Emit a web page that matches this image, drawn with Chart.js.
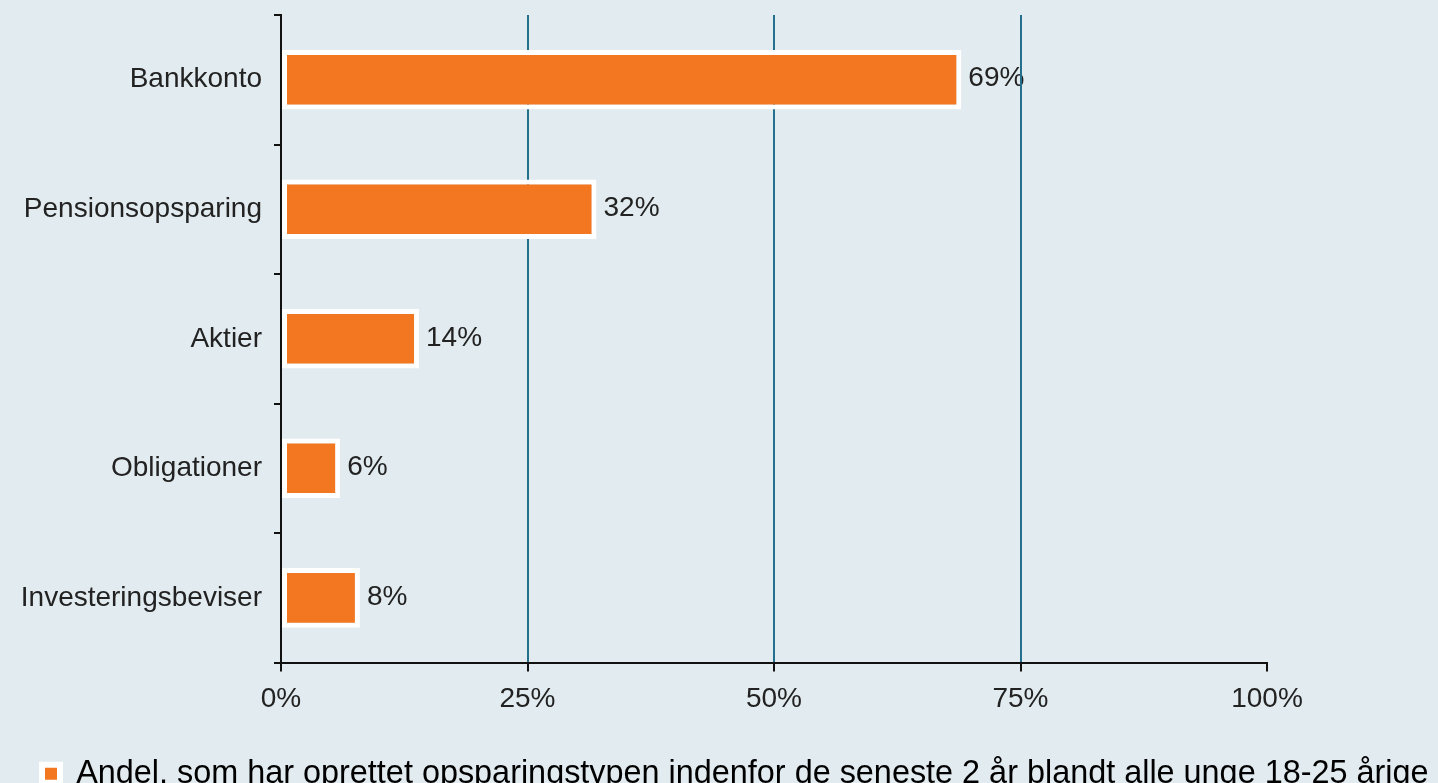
<!DOCTYPE html>
<html>
<head>
<meta charset="utf-8">
<script src="https://cdn.jsdelivr.net/npm/chart.js@4.4.1/dist/chart.umd.min.js"></script>
<style>
  html, body { margin: 0; padding: 0; background: #e2ebef; overflow: hidden; }
  #wrap { width: 1438px; height: 800px; }
</style>
</head>
<body>
<div id="wrap"><canvas id="savingsChart" width="1438" height="800"></canvas></div>
<script>
const categories = ['Bankkonto', 'Pensionsopsparing', 'Aktier', 'Obligationer', 'Investeringsbeviser'];
const shares = [69, 32, 14, 6, 8];
const xTicks = [0, 25, 50, 75, 100];
const seriesLabel = 'Andel, som har oprettet opsparingstypen indenfor de seneste 2 år blandt alle unge 18-25 årige';

const orange = '#f37721';
const teal = '#246f8c';
const font = "'Liberation Sans', Arial, sans-serif";

// value labels drawn before the scales so grid lines pass over them
const valueLabels = {
  id: 'valueLabels',
  beforeDraw(chart) {
    const meta = chart.getDatasetMeta(0);
    if (!meta.data.length) return;
    const ctx = chart.ctx;
    ctx.save();
    ctx.font = '28px ' + font;
    ctx.fillStyle = '#222';
    ctx.textBaseline = 'middle';
    meta.data.forEach((bar, i) => {
      ctx.fillText(shares[i] + '%', bar.x + 7, bar.y - 1);
    });
    ctx.restore();
  }
};

new Chart(document.getElementById('savingsChart'), {
  type: 'bar',
  data: {
    labels: categories,
    datasets: [{
      label: seriesLabel,
      data: shares,
      backgroundColor: orange,
      borderColor: '#ffffff',
      borderWidth: 5,
      borderSkipped: false,
      categoryPercentage: 1,
      barPercentage: 0.46
    }]
  },
  options: {
    indexAxis: 'y',
    responsive: false,
    animation: false,
    layout: { padding: { top: 15, left: 0, right: 0, bottom: 0 } },
    scales: {
      x: {
        min: 0,
        max: 100,
        afterBuildTicks(scale) { scale.ticks = xTicks.map(v => ({ value: v })); },
        border: { color: '#111', width: 2 },
        grid: {
          color: c => (c.tick && (c.tick.value === 0 || c.tick.value === 100)) ? 'rgba(0,0,0,0)' : teal,
          lineWidth: 2,
          tickColor: '#111',
          tickLength: 9
        },
        ticks: {
          color: '#222',
          font: { family: font, size: 28 },
          padding: 11,
          callback: v => v + '%'
        },
        afterFit(scale) {
          scale.height = 53;
          scale.paddingLeft = 0;
          scale.paddingRight = 171;
        }
      },
      y: {
        border: { color: '#111', width: 2 },
        grid: {
          drawOnChartArea: false,
          tickColor: '#111',
          tickLength: 7,
          lineWidth: 2
        },
        ticks: {
          color: '#222',
          font: { family: font, size: 28 },
          padding: 12
        },
        afterFit(scale) {
          scale.width = 281;
          scale.paddingTop = 0;
          scale.paddingBottom = 0;
        }
      }
    },
    plugins: {
      tooltip: { enabled: false },
      legend: {
        position: 'bottom',
        align: 'start',
        labels: {
          color: '#222',
          font: { family: font, size: 32.4 },
          boxWidth: 18,
          boxHeight: 18,
          padding: 42,
          generateLabels(chart) {
            return [{
              text: seriesLabel,
              fillStyle: orange,
              strokeStyle: '#ffffff',
              lineWidth: 6,
              hidden: false,
              datasetIndex: 0
            }];
          }
        }
      }
    }
  },
  plugins: [valueLabels]
});
</script>
</body>
</html>
